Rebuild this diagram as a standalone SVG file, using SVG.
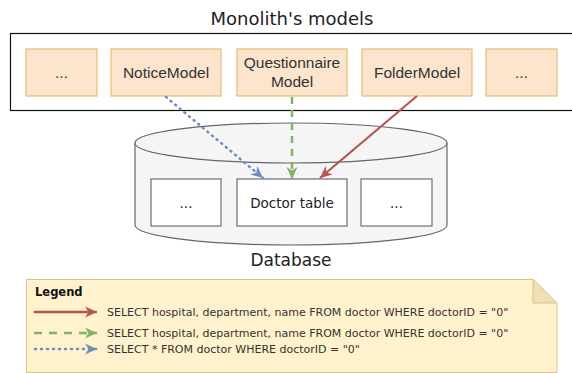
<svg xmlns="http://www.w3.org/2000/svg" width="572" height="373" viewBox="0 0 572 373">
<style>
.model{fill:#fde5cd;stroke:#e4bb74;stroke-width:1.2}
.mt{font-family:"Liberation Sans",Arial,sans-serif;font-size:15.5px;fill:#333;text-anchor:middle}
.tbl{fill:#fff;stroke:#555;stroke-width:1}
.dt{font-family:"DejaVu Sans",Verdana,sans-serif;font-size:13.5px;fill:#222;text-anchor:middle}
.lg{font-family:"DejaVu Sans",Verdana,sans-serif;font-size:11px;fill:#333}
</style>
<defs>
<marker id="aR" markerUnits="userSpaceOnUse" markerWidth="14" markerHeight="12" refX="12" refY="6" orient="auto"><path d="M0,0.5 L12,6 L0,11.5 L3.5,6 Z" fill="#b85450"/></marker>
<marker id="aG" markerUnits="userSpaceOnUse" markerWidth="14" markerHeight="12" refX="12" refY="6" orient="auto"><path d="M0,0.5 L12,6 L0,11.5 L3.5,6 Z" fill="#82b366"/></marker>
<marker id="aB" markerUnits="userSpaceOnUse" markerWidth="14" markerHeight="12" refX="12" refY="6" orient="auto"><path d="M0,0.5 L12,6 L0,11.5 L3.5,6 Z" fill="#6c8ebf"/></marker>
</defs>
<rect width="572" height="373" fill="#fff"/>
<text x="292" y="25" font-family="DejaVu Sans,Verdana,sans-serif" font-size="18" fill="#222" text-anchor="middle">Monolith's models</text>
<g id="monolith"><rect x="10.5" y="33.5" width="563" height="77" fill="#fff" stroke="#111" stroke-width="1.2"/></g>
<g id="m1"><rect class="model" x="26" y="49" width="71" height="47"/><text class="mt" x="61.5" y="78">...</text></g>
<g id="notice"><rect class="model" x="111" y="49" width="110" height="47"/><text class="mt" x="166" y="78">NoticeModel</text></g>
<g id="question"><rect class="model" x="237" y="49" width="110" height="47"/><text class="mt" x="292" y="68">Questionnaire</text><text class="mt" x="292" y="87">Model</text></g>
<g id="folder"><rect class="model" x="362" y="49" width="110" height="47"/><text class="mt" x="417" y="78">FolderModel</text></g>
<g id="m5"><rect class="model" x="486" y="49" width="71" height="47"/><text class="mt" x="521.5" y="78">...</text></g>
<g id="database">
<path d="M135,143 V225 A156,20 0 0 0 447,225 V143" fill="#f5f5f5" stroke="#666" stroke-width="1.2"/>
<ellipse cx="291" cy="143" rx="156" ry="20" fill="#f5f5f5" stroke="#666" stroke-width="1.2"/>
<text x="291" y="266" font-family="DejaVu Sans,Verdana,sans-serif" font-size="17" fill="#222" text-anchor="middle">Database</text>
</g>
<g id="t1"><rect class="tbl" x="151" y="179" width="70" height="47"/><text class="dt" x="186" y="208">...</text></g>
<g id="doctor"><rect class="tbl" x="237" y="179" width="110" height="47"/><text class="dt" x="292" y="208">Doctor table</text></g>
<g id="t3"><rect class="tbl" x="361" y="179" width="71" height="47"/><text class="dt" x="396.5" y="208">...</text></g>
<g id="connectors" fill="none">
<line x1="166" y1="97" x2="263" y2="178" stroke="#6c8ebf" stroke-width="2.5" stroke-dasharray="1 5" stroke-linecap="round" marker-end="url(#aB)"/>
<line x1="292" y1="97" x2="292" y2="179" stroke="#82b366" stroke-width="2.5" stroke-dasharray="7 6" marker-end="url(#aG)"/>
<line x1="417" y1="96" x2="320" y2="178" stroke="#b85450" stroke-width="2.2" marker-end="url(#aR)"/>
</g>
<g id="legend">
<path d="M26.5,279.5 H533 L557,303 V372.5 H26.5 Z" fill="#fff2cc" stroke="#d6c38a" stroke-width="1"/>
<path d="M533,279.5 V303 H557 Z" fill="#efe0b8" stroke="#d6c38a" stroke-width="1"/>
<text x="35" y="296" font-family="DejaVu Sans,Verdana,sans-serif" font-size="11.5" font-weight="bold" fill="#111">Legend</text>
<line x1="34" y1="312" x2="97" y2="312" stroke="#b85450" stroke-width="2.5" marker-end="url(#aR)"/>
<line x1="34" y1="333" x2="97" y2="333" stroke="#82b366" stroke-width="2.5" stroke-dasharray="8 7" marker-end="url(#aG)"/>
<line x1="35" y1="349" x2="97" y2="349" stroke="#6c8ebf" stroke-width="2.5" stroke-dasharray="1 5" stroke-linecap="round" marker-end="url(#aB)"/>
<text class="lg" x="107" y="316">SELECT hospital, department, name FROM doctor WHERE doctorID = "0"</text>
<text class="lg" x="107" y="337">SELECT hospital, department, name FROM doctor WHERE doctorID = "0"</text>
<text class="lg" x="107" y="353">SELECT * FROM doctor WHERE doctorID = "0"</text>
</g>
</svg>
